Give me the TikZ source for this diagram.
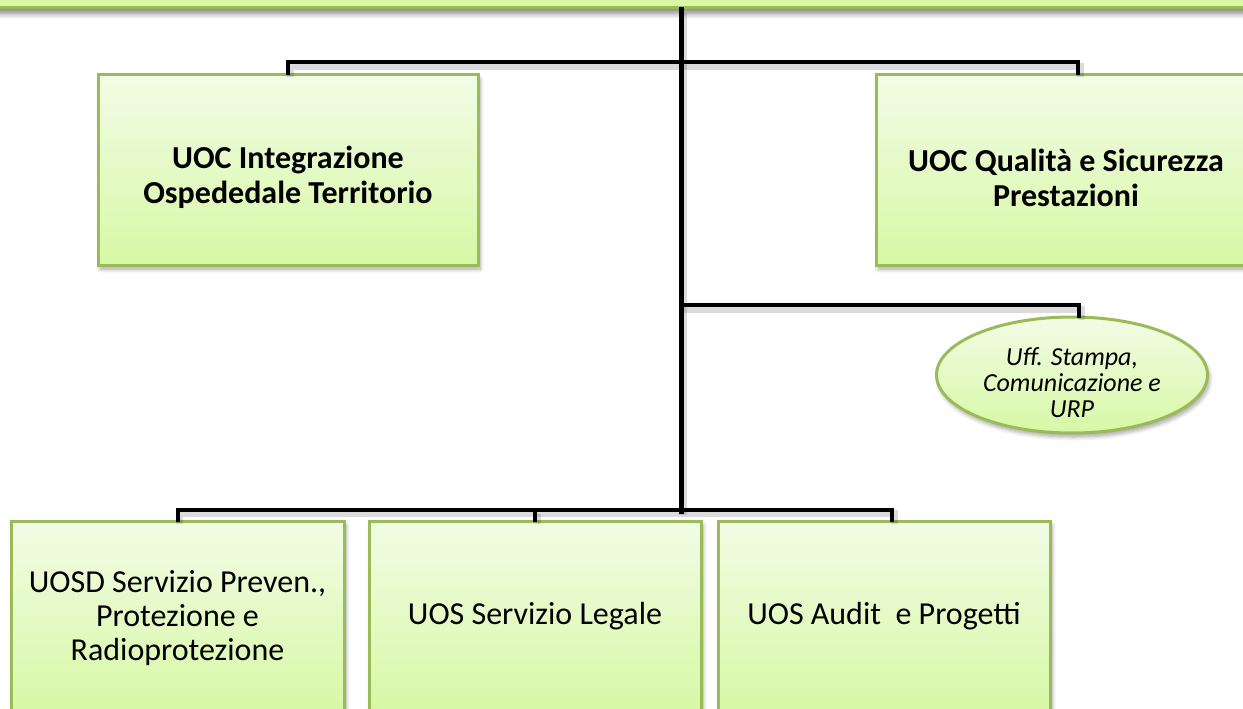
\documentclass[tikz,border=0pt]{standalone}
\usepackage{fontspec}
\setmainfont{Carlito}
\usetikzlibrary{shadows,shadows.blur,calc,shapes.geometric}
\definecolor{gborder}{HTML}{9BBB59}
\definecolor{gtop}{HTML}{F2FCE6}
\definecolor{gbot}{HTML}{D7F8A5}
\definecolor{barfill}{HTML}{D9F9A8}
\tikzset{
  softshadow/.style={blur shadow={shadow xshift=2pt, shadow yshift=-4pt, shadow blur steps=6, shadow blur radius=4pt, shadow opacity=35}},
  unitbox/.style={draw=gborder, line width=3pt, top color=gtop, bottom color=gbot,
    minimum width=#1, minimum height=190, inner sep=0pt, align=center, softshadow},
  unitbox/.default=380,
  bigtxt/.style={font=\fontsize{32}{35}\selectfont\bfseries},
  regtxt/.style={font=\fontsize{32}{34}\selectfont},
  ovalbox/.style={ellipse, draw=gborder, line width=3pt, top color=gtop, bottom color=gbot,
    minimum width=271, minimum height=116, inner sep=0pt, softshadow,
    font=\fontsize{26}{26}\selectfont\itshape},
  conn/.style={line width=#1, black, line join=miter, line cap=rect,
    preaction={draw=black, opacity=0.14, line width=#1+3pt, transform canvas={shift={(2pt,-4pt)}}}},
  conn/.default=4pt
}
\begin{document}
\begin{tikzpicture}[x=1pt,y=-1pt]
\useasboundingbox (0,0) rectangle (1243,709);
\clip (0,0) rectangle (1243,709);
% top bar
\node[draw=gborder, line width=3pt, fill=barfill, minimum width=1300, minimum height=16, inner sep=0pt,
  blur shadow={shadow xshift=0pt, shadow yshift=-6pt, shadow blur steps=6, shadow blur radius=5pt, shadow opacity=45}] (top) at (621.5,0) {};
% boxes
\node[unitbox, bigtxt] (b1) at (288,170) {\raisebox{-14pt}[0pt][0pt]{\makebox[0pt]{\parbox{360pt}{\centering UOC Integrazione\\Ospededale Territorio}}}};
\node[unitbox, bigtxt] (b2) at (1066,170) {\raisebox{-14pt}[0pt][0pt]{\makebox[0pt]{\parbox{360pt}{\centering UOC Qualità e Sicurezza\\Prestazioni}}}};
\node[ovalbox] (uff) at (1072,375) {\raisebox{-14pt}[0pt][0pt]{\makebox[0pt]{\parbox{250pt}{\centering Uff. Stampa,\\Comunicazione e\\URP}}}};
\node[unitbox=333, regtxt] (b3) at (177.5,616) {\raisebox{-8pt}[0pt][0pt]{\makebox[0pt]{\parbox{320pt}{\centering UOSD Servizio Preven.,\\Protezione e\\Radioprotezione}}}};
\node[unitbox=332, regtxt] (b4) at (535,616) {UOS Servizio Legale};
\node[unitbox=332, regtxt] (b5) at (884,616) {UOS Audit\ \ e Progetti};
% connectors
\coordinate (spineend) at (681,511);
\coordinate (mid) at (681,305);
\draw[conn=4pt] (b1.north) -- ++(0,-11) -| ([xshift=12pt]b2.north);
\draw[conn=4pt] (mid) -| ([xshift=7pt]uff.north);
\draw[conn=4pt] (b3.north) -- ++(0,-10) -| ([xshift=8pt]b5.north);
\draw[conn=4pt] (b4.north) -- ++(0,-10);
\draw[conn=5pt] (top.south -| spineend) -- (spineend);
\end{tikzpicture}
\end{document}
